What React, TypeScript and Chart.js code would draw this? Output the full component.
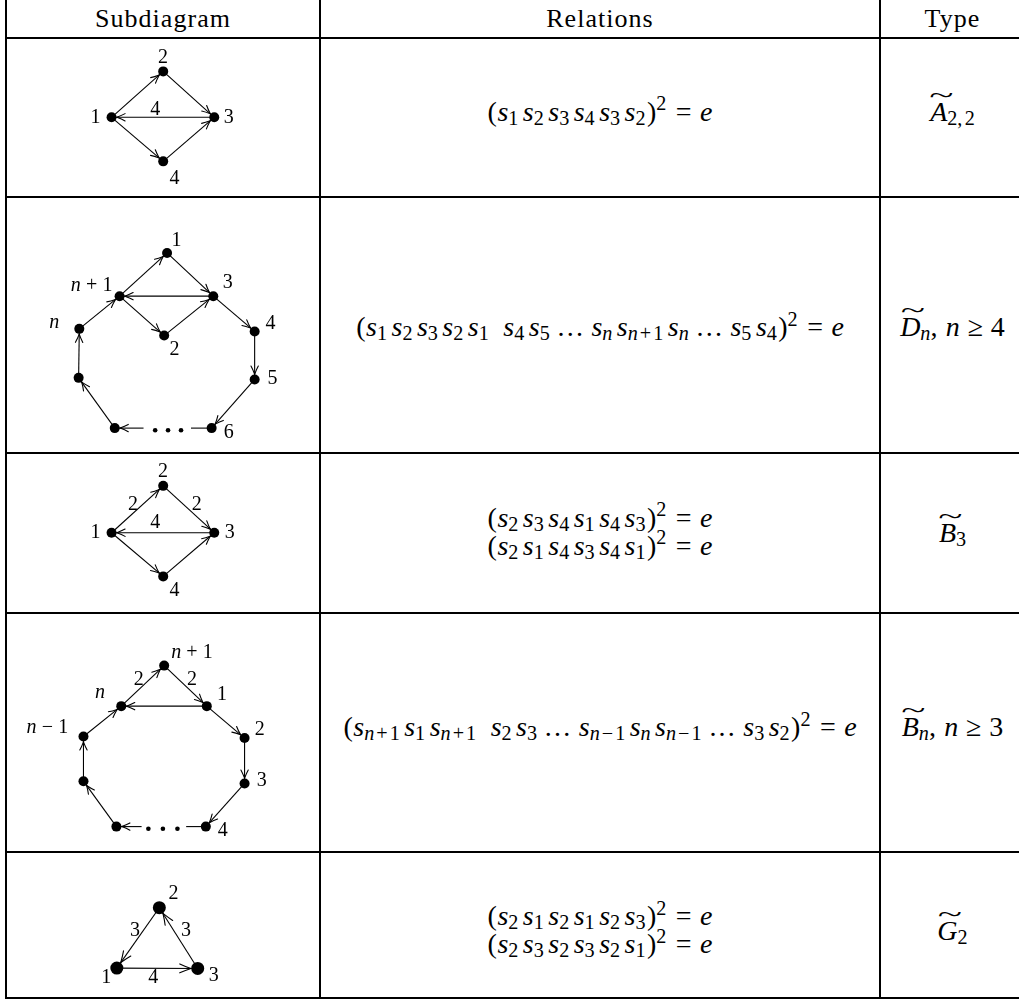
import React, { useEffect, useRef } from 'react';
import { Chart, registerables } from 'chart.js';

Chart.register(...registerables);

// ---------------- table text ----------------
const HEADERS = ['Subdiagram', 'Relations', 'Type'];

// relation words: indices of generators s_i ; ' ' = gap, '…' = dots
const REL_ROW1 = [['1', '2', '3', '4', '3', '2']];
const REL_ROW2 = [['1', '2', '3', '2', '1', ' ', '4', '5', '…', 'n', 'n+1', 'n', '…', '5', '4']];
const REL_ROW3 = [
  ['2', '3', '4', '1', '4', '3'],
  ['2', '1', '4', '3', '4', '1'],
];
const REL_ROW4 = [['n+1', '1', 'n+1', ' ', '2', '3', '…', 'n−1', 'n', 'n−1', '…', '3', '2']];
const REL_ROW5 = [
  ['2', '1', '2', '1', '2', '3'],
  ['2', '3', '2', '3', '2', '1'],
];
const RELATIONS = [REL_ROW1, REL_ROW2, REL_ROW3, REL_ROW4, REL_ROW5];

const TYPE_LETTERS = ['A', 'D', 'B', 'B', 'G'];
const TYPE_SUBS = ['2,2', 'n', '3', 'n', '2'];
const TYPE_CONDS = ['', '4', '', '3', ''];

// ---------------- diagram data (local units of each cell) ----------------
// Diagram 1 : A~(2,2)
const D1_NAMES = ['1', '2', '3', '4'];
const D1_X = [110, 163.3, 216, 163.3];
const D1_Y = [79.3, 30.3, 79.3, 126.3];
const D1_EDGES = [['1', '2', 1], ['2', '3', 1], ['3', '1', 1], ['1', '4', 1], ['4', '3', 1]];
const D1_LABELS = [['2', 163, 21.3], ['1', 93.5, 85.3], ['3', 231, 85.3], ['4', 175, 150], ['4', 155, 77]];

// Diagram 2 : D~n
const D2_NAMES = ['1', 'n+1', '3', '2', '4', 'n', '5', 'L', '6', 'BL'];
const D2_X = [167.3, 118.3, 215, 164.3, 257.7, 76.7, 257.7, 76, 213.3, 113.3];
const D2_Y = [53, 98, 98, 139, 134.7, 132, 184.7, 183, 235.3, 235.3];
const D2_WAY = ['g1', 'g2'];
const D2_WAY_X = [192, 143];
const D2_WAY_Y = [235.3, 235.3];
const D2_EDGES = [
  ['n+1', '1', 1], ['1', '3', 1], ['3', 'n+1', 1], ['n+1', '2', 1], ['2', '3', 1],
  ['3', '4', 1], ['4', '5', 1], ['5', '6', 1], ['6', 'g1', 0], ['g2', 'BL', 1],
  ['BL', 'L', 1], ['L', 'n', 1], ['n', 'n+1', 1],
];
const D2_DOTS_X = [155, 168.3, 181.7];
const D2_DOTS_Y = [237.5, 237.5, 237.5];
const D2_LABELS = [
  ['1', 177, 46.3], ['n + 1', 89.5, 92.3], ['3', 230, 89.7], ['2', 175, 158.7],
  ['4', 274, 132], ['n', 50.8, 130.7], ['5', 276, 189.7], ['6', 231, 245.3],
];

// Diagram 3 : B~3
const D3_NAMES = ['1', '2', '3', '4'];
const D3_X = [110, 163.3, 216, 163.3];
const D3_Y = [79.7, 29.7, 79.7, 126.3];
const D3_EDGES = [['1', '2', 1], ['2', '3', 1], ['3', '1', 1], ['1', '4', 1], ['4', '3', 1]];
const D3_LABELS = [
  ['2', 163, 20.3], ['1', 93.5, 85.5], ['3', 232, 85.5], ['4', 175, 147],
  ['2', 132, 55.3], ['2', 198, 55.3], ['4', 155, 75],
];

// Diagram 4 : B~n
const D4_NAMES = ['n+1', 'n', '1', 'n-1', '2', 'L', '3', 'BL', '4'];
const D4_X = [164.3, 120, 208.3, 81, 247.3, 81, 247.3, 115, 207.3];
const D4_Y = [49.7, 92, 92, 123.7, 125.3, 170.3, 172.7, 217.7, 217.7];
const D4_WAY = ['g1', 'g2'];
const D4_WAY_X = [187, 141];
const D4_WAY_Y = [217.7, 217.7];
const D4_EDGES = [
  ['n', 'n+1', 1], ['n+1', '1', 1], ['1', 'n', 1], ['1', '2', 1], ['2', '3', 1],
  ['3', '4', 1], ['4', 'g1', 0], ['g2', 'BL', 1], ['BL', 'L', 1], ['L', 'n-1', 1], ['n-1', 'n', 1],
];
const D4_DOTS_X = [148, 163, 178];
const D4_DOTS_Y = [220, 220, 220];
const D4_LABELS = [
  ['n + 1', 193, 42], ['n', 98, 83.7], ['1', 224, 85.3], ['n − 1', 43.7, 120.3],
  ['2', 263, 122], ['3', 265, 175.3], ['4', 224.7, 227], ['2', 138, 70.3], ['2', 193, 70.3],
];

// Diagram 5 : G~2
const D5_NAMES = ['2', '1', '3'];
const D5_X = [159.3, 115, 199.3];
const D5_Y = [54, 120.3, 120.7];
const D5_EDGES = [['2', '1', 1], ['1', '3', 1], ['3', '2', 1]];
const D5_LABELS = [
  ['2', 174, 44.7], ['1', 104, 136.3], ['3', 216, 134.7],
  ['3', 134, 85.3], ['3', 187, 85.3], ['4', 153, 136.3],
];

// ---------------- layout ----------------
const ROW_LINES = [38, 197, 453, 613, 852, 998];
const COL_LINES = [6, 320, 880];
const REL_BASELINES = [[121.5], [337], [527.5, 555.8], [737], [926, 954]];
const TYPE_BASELINES = [122, 337, 543, 737, 941];
const FONT = '"Liberation Serif", "Times New Roman", serif';
const MATH_FS = 28;
const HEAD_FS = 26;
const LABEL_FS = 20;

type Spec = {
  width: number;
  height: number;
  names: string[];
  xs: number[];
  ys: number[];
  wayNames: string[];
  wayXs: number[];
  wayYs: number[];
  edges: any[];
  dotXs: number[];
  dotYs: number[];
  labels: any[];
  radius: number;
  arrowLen: number;
  arrowAngle: number;
};

function spec(
  i: number, names: string[], xs: number[], ys: number[], edges: any[], labels: any[],
  extra: Partial<Spec> = {}
): Spec {
  return {
    width: COL_LINES[1],
    height: ROW_LINES[i + 1] - ROW_LINES[i],
    names, xs, ys, edges, labels,
    wayNames: [], wayXs: [], wayYs: [], dotXs: [], dotYs: [],
    radius: 5, arrowLen: 9, arrowAngle: 0.42,
    ...extra,
  };
}

const DIAGRAMS: Spec[] = [
  spec(0, D1_NAMES, D1_X, D1_Y, D1_EDGES, D1_LABELS),
  spec(1, D2_NAMES, D2_X, D2_Y, D2_EDGES, D2_LABELS, {
    wayNames: D2_WAY, wayXs: D2_WAY_X, wayYs: D2_WAY_Y, dotXs: D2_DOTS_X, dotYs: D2_DOTS_Y,
  }),
  spec(2, D3_NAMES, D3_X, D3_Y, D3_EDGES, D3_LABELS),
  spec(3, D4_NAMES, D4_X, D4_Y, D4_EDGES, D4_LABELS, {
    wayNames: D4_WAY, wayXs: D4_WAY_X, wayYs: D4_WAY_Y, dotXs: D4_DOTS_X, dotYs: D4_DOTS_Y,
  }),
  spec(4, D5_NAMES, D5_X, D5_Y, D5_EDGES, D5_LABELS, { radius: 6.5, arrowLen: 12, arrowAngle: 0.38 }),
];

function drawLabel(ctx: CanvasRenderingContext2D, text: string, cx: number, by: number, fs: number) {
  const toks = text.split(' ');
  const gap = fs * 0.26;
  const fonts = toks.map((t) => (/^[a-z]$/.test(t) ? `italic ${fs}px ${FONT}` : `${fs}px ${FONT}`));
  const widths = toks.map((t, i) => {
    ctx.font = fonts[i];
    return ctx.measureText(t).width;
  });
  const total = widths.reduce((a, b) => a + b, 0) + gap * (toks.length - 1);
  let x = cx - total / 2;
  toks.forEach((t, i) => {
    ctx.font = fonts[i];
    ctx.fillText(t, x, by);
    x += widths[i] + gap;
  });
}

function overlay(sp: Spec, pos: Record<string, number[]>) {
  return {
    id: 'diagramOverlay',
    afterDatasetsDraw(chart: any) {
      const ctx: CanvasRenderingContext2D = chart.ctx;
      const sx = chart.scales.x;
      const sy = chart.scales.y;
      const px = (p: number[]) => [sx.getPixelForValue(p[0]), sy.getPixelForValue(p[1])];
      ctx.save();
      ctx.strokeStyle = '#000';
      ctx.lineWidth = 1.1;
      ctx.lineCap = 'round';
      for (const [a, b, arrow] of sp.edges) {
        if (!arrow) continue;
        const [x1, y1] = px(pos[a]);
        const [x2, y2] = px(pos[b]);
        const d = Math.hypot(x2 - x1, y2 - y1);
        const ux = (x2 - x1) / d;
        const uy = (y2 - y1) / d;
        const tx = x2 - ux * (sp.radius + 0.3);
        const ty = y2 - uy * (sp.radius + 0.3);
        for (const s of [-1, 1]) {
          const ang = s * sp.arrowAngle;
          const c = Math.cos(ang);
          const sn = Math.sin(ang);
          const bx = -ux * c + uy * sn;
          const by = -ux * sn - uy * c;
          const ex = tx + bx * sp.arrowLen;
          const ey = ty + by * sp.arrowLen;
          const mx = tx + bx * sp.arrowLen * 0.5 - ux * 0.8;
          const my = ty + by * sp.arrowLen * 0.5 - uy * 0.8;
          ctx.beginPath();
          ctx.moveTo(tx, ty);
          ctx.quadraticCurveTo(mx, my, ex, ey);
          ctx.stroke();
        }
      }
      ctx.fillStyle = '#000';
      ctx.textBaseline = 'alphabetic';
      for (const [t, lx, ly] of sp.labels) {
        const [cx, cy] = px([lx, ly]);
        drawLabel(ctx, t, cx, cy, LABEL_FS);
      }
      ctx.restore();
    },
  };
}

function Diagram({ sp, top }: { sp: Spec; top: number }) {
  const ref = useRef<HTMLCanvasElement>(null);
  useEffect(() => {
    const canvas = ref.current;
    if (!canvas) return;
    const pos: Record<string, number[]> = {};
    sp.names.forEach((n, i) => (pos[n] = [sp.xs[i], sp.ys[i]]));
    sp.wayNames.forEach((n, i) => (pos[n] = [sp.wayXs[i], sp.wayYs[i]]));
    const datasets: any[] = [
      {
        label: 'nodes',
        data: sp.names.map((n) => ({ x: pos[n][0], y: pos[n][1] })),
        pointRadius: sp.radius,
        pointBackgroundColor: '#000',
        pointBorderColor: '#000',
        pointBorderWidth: 0,
        showLine: false,
        order: 0,
        clip: false,
      },
      {
        label: 'dots',
        data: sp.dotXs.map((x, i) => ({ x, y: sp.dotYs[i] })),
        pointRadius: 2.3,
        pointBackgroundColor: '#000',
        pointBorderColor: '#000',
        pointBorderWidth: 0,
        showLine: false,
        order: 0,
        clip: false,
      },
      ...sp.edges.map(([a, b]) => ({
        label: a + '-' + b,
        data: [
          { x: pos[a][0], y: pos[a][1] },
          { x: pos[b][0], y: pos[b][1] },
        ],
        showLine: true,
        borderColor: '#000',
        borderWidth: 1.1,
        pointRadius: 0,
        tension: 0,
        fill: false,
        order: 1,
        clip: false,
      })),
    ];
    const chart = new Chart(canvas, {
      type: 'scatter',
      data: { datasets },
      options: {
        responsive: false,
        maintainAspectRatio: false,
        animation: false,
        events: [],
        devicePixelRatio: 1,
        layout: { padding: 0 },
        plugins: { legend: { display: false }, tooltip: { enabled: false }, title: { display: false } },
        scales: {
          x: { type: 'linear', min: 0, max: sp.width, display: false },
          y: { type: 'linear', min: 0, max: sp.height, reverse: true, display: false },
        },
      },
      plugins: [overlay(sp, pos)],
    } as any);
    return () => chart.destroy();
  }, [sp]);
  return (
    <div style={{ position: 'absolute', left: 0, top, width: sp.width, height: sp.height }}>
      <canvas ref={ref} width={sp.width} height={sp.height} />
    </div>
  );
}

// ---------------- math helpers ----------------
const SUB: React.CSSProperties = { fontSize: '0.72em', position: 'relative', top: '0.2em', lineHeight: 0 };
const SUP: React.CSSProperties = { fontSize: '0.72em', position: 'relative', top: '-0.52em', lineHeight: 0 };

function Idx({ t }: { t: string }) {
  const parts: React.ReactNode[] = [];
  for (let i = 0; i < t.length; i++) {
    const c = t[i];
    if (/[a-z]/.test(c)) parts.push(<i key={i}>{c}</i>);
    else if (c === '+' || c === '−') parts.push(<span key={i} style={{ margin: '0 0.1em' }}>{c}</span>);
    else if (c === ',') parts.push(<span key={i} style={{ marginRight: '0.12em' }}>{c}</span>);
    else parts.push(<span key={i}>{c}</span>);
  }
  return <>{parts}</>;
}

function Word({ tokens }: { tokens: string[] }) {
  return (
    <span>
      (
      {tokens.map((tok, i) => {
        if (tok === ' ') return <span key={i} style={{ display: 'inline-block', width: '0.36em' }} />;
        if (tok === '…')
          return (
            <span key={i} style={{ margin: '0 0.2em 0 0.14em', letterSpacing: '0.08em' }}>
              ...
            </span>
          );
        const last = i === tokens.length - 1;
        return (
          <span key={i} style={{ paddingRight: last ? '0.05em' : '0.14em' }}>
            <i style={{ marginLeft: '0.02em' }}>s</i>
            <span style={SUB}>
              <Idx t={tok} />
            </span>
          </span>
        );
      })}
      )<span style={SUP}>2</span>
      <span style={{ margin: '0 0.3em 0 0.34em' }}>=</span>
      <i>e</i>
    </span>
  );
}

function Tilde({ ch }: { ch: string }) {
  return (
    <span style={{ position: 'relative', display: 'inline-block' }}>
      <i>{ch}</i>
      <span
        style={{
          position: 'absolute',
          left: 0,
          top: 0,
          width: '100%',
          textAlign: 'center',
          transform: 'translate(0.1em, -0.58em) scale(1.6, 0.8)',
        }}
      >
        ~
      </span>
    </span>
  );
}

function TypeLabel({ i }: { i: number }) {
  return (
    <span>
      <Tilde ch={TYPE_LETTERS[i]} />
      <span style={SUB}>
        <Idx t={TYPE_SUBS[i]} />
      </span>
      {TYPE_CONDS[i] && (
        <>
          <span style={{ marginRight: '0.3em' }}>,</span>
          <i>n</i>
          <span style={{ margin: '0 0.28em' }}>≥</span>
          {TYPE_CONDS[i]}
        </>
      )}
    </span>
  );
}

export default function App() {
  const lineColor = '#000';
  const lineW = 2;
  const headCenters = [
    [COL_LINES[0], COL_LINES[1]],
    [COL_LINES[1], COL_LINES[2]],
    [COL_LINES[2], 1025],
  ];
  return (
    <div
      style={{
        position: 'absolute',
        left: 0,
        top: 0,
        width: 1019,
        height: 1000,
        overflow: 'hidden',
        background: '#fff',
        color: '#000',
        fontFamily: FONT,
      }}
    >
      {DIAGRAMS.map((sp, i) => (
        <Diagram key={i} sp={sp} top={ROW_LINES[i]} />
      ))}

      {HEADERS.map((h, i) => (
        <div
          key={h}
          style={{
            position: 'absolute',
            left: headCenters[i][0],
            width: headCenters[i][1] - headCenters[i][0],
            top: 28 - 23.8,
            fontSize: HEAD_FS,
            lineHeight: '30px',
            textAlign: 'center',
            letterSpacing: '0.04em',
            whiteSpace: 'nowrap',
          }}
        >
          {h}
        </div>
      ))}

      {RELATIONS.map((rows, r) =>
        rows.map((tokens, k) => (
          <div
            key={r + '-' + k}
            style={{
              position: 'absolute',
              left: COL_LINES[1],
              width: COL_LINES[2] - COL_LINES[1],
              top: REL_BASELINES[r][k] - 24.9,
              fontSize: MATH_FS,
              lineHeight: '30px',
              textAlign: 'center',
              whiteSpace: 'nowrap',
            }}
          >
            <Word tokens={tokens} />
          </div>
        ))
      )}

      {TYPE_LETTERS.map((_, r) => (
        <div
          key={'t' + r}
          style={{
            position: 'absolute',
            left: COL_LINES[2],
            width: 1025 - COL_LINES[2],
            top: TYPE_BASELINES[r] - 24.9,
            fontSize: MATH_FS,
            lineHeight: '30px',
            textAlign: 'center',
            whiteSpace: 'nowrap',
          }}
        >
          <TypeLabel i={r} />
        </div>
      ))}

      {COL_LINES.map((x, i) => (
        <div
          key={'v' + i}
          style={{ position: 'absolute', left: x - lineW / 2, top: 0, width: lineW, height: ROW_LINES[5] + 1, background: lineColor }}
        />
      ))}
      {ROW_LINES.map((y, i) => (
        <div
          key={'h' + i}
          style={{ position: 'absolute', left: COL_LINES[0] - 1, top: y - lineW / 2, width: 1030, height: lineW, background: lineColor }}
        />
      ))}
    </div>
  );
}
